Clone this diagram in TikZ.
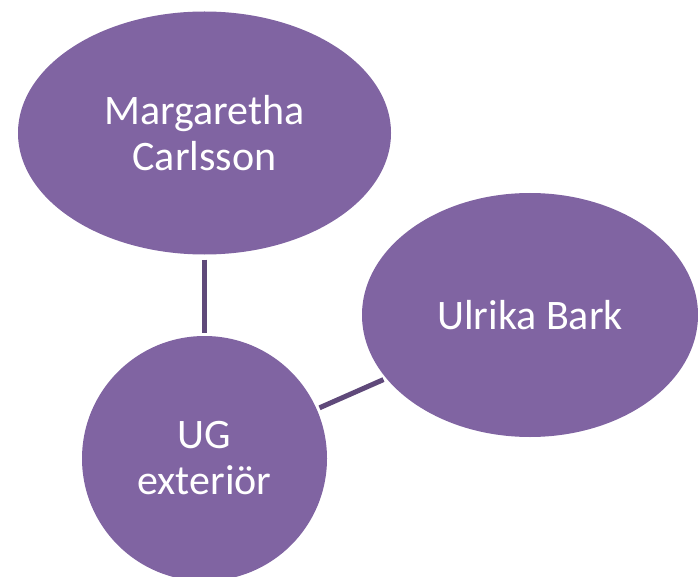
\documentclass[tikz,border=0pt]{standalone}
\usepackage{fontspec}
\setmainfont{Carlito}
\usetikzlibrary{shapes.geometric}
\definecolor{bubble}{HTML}{8064A2}
\definecolor{linkc}{HTML}{5F497A}
\tikzset{
  bubblenode/.style={ellipse, fill=bubble, draw=none, inner sep=0pt, text=white,
    align=center, font=\fontsize{42}{46}\selectfont},
  linkline/.style={draw=linkc, line width=5pt}
}
\begin{document}
\begin{tikzpicture}[x=1pt,y=-1pt]
\useasboundingbox (0,0) rectangle (698,577);
\clip (0,0) rectangle (698,577);
\node[bubblenode, minimum width=373pt, minimum height=243pt] (m) at (204.5,133) {Margaretha\\Carlsson};
\node[bubblenode, minimum width=336pt, minimum height=244pt] (u) at (530,315) {Ulrika Bark};
\node[bubblenode, circle, minimum size=245pt] (g) at (204.5,458.5) {UG\\exteriör};
\draw[linkline, shorten <=5pt, shorten >=3pt] (m) -- (g);
\draw[linkline, shorten <=3pt, shorten >=3pt] (g) -- (u);
\end{tikzpicture}
\end{document}
